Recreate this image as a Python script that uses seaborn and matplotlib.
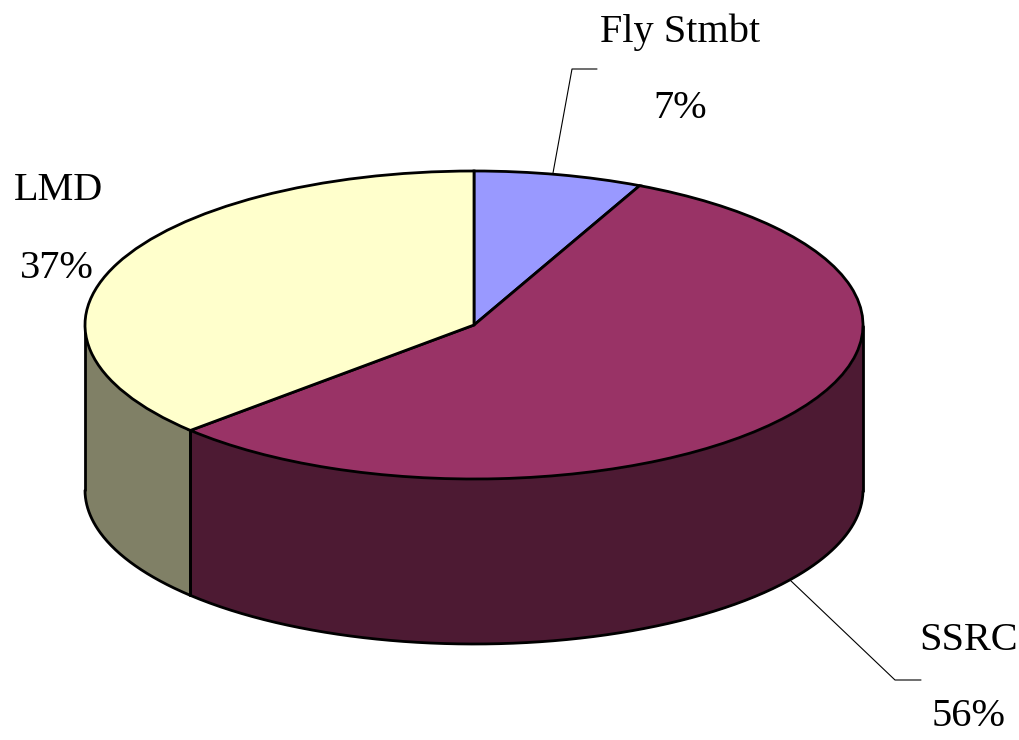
import numpy as np
import matplotlib
matplotlib.use("Agg")
import matplotlib.pyplot as plt
import seaborn as sns

labels = ["Fly Stmbt", "SSRC", "LMD"]
shares = [7, 56, 37]
top_colors = ["#9999ff", "#993366", "#ffffcc"]
side_colors = ["#4d4d80", "#4d1a33", "#808066"]

sns.set_theme(style="white")
plt.rcParams["font.family"] = ["Liberation Serif", "DejaVu Serif"]

W, H = 1020, 740
CX, CY, RX, RY, DEPTH = 474, 325, 389, 154, 165

fig = plt.figure(figsize=(W / 100, H / 100), dpi=100)
ax = fig.add_axes([0, 0, 1, 1])
LW = 2.0

# side walls, computed from the shares
start = 90.0
edges = start - np.cumsum([0] + shares) * 3.6
d = DEPTH / RY
for i in range(len(shares)):
    th = np.radians(np.linspace(edges[i + 1], edges[i], 400))
    mask = np.sin(th) <= 0
    if mask.any():
        xs, ys = np.cos(th[mask]), np.sin(th[mask])
        ax.fill_between(xs, ys - d, ys, color=side_colors[i], lw=0, zorder=1)
        for xv, yv in ((xs[0], ys[0]), (xs[-1], ys[-1])):
            ax.plot([xv, xv], [yv, yv - d], color="black", lw=LW, zorder=2)
        ax.plot(xs, ys - d, color="black", lw=LW, zorder=2)

# top face
wedges, _ = ax.pie(shares, colors=top_colors, startangle=90, counterclock=False,
                   radius=1, wedgeprops=dict(edgecolor="black", linewidth=LW, zorder=3))
for w in wedges:
    w.set_zorder(3)

ax.set_aspect("auto")
ax.set_xlim(-CX / RX, (W - CX) / RX)
ax.set_ylim(-(H - CY) / RY, CY / RY)
ax.axis("off")

def frac(px, py):
    return px / W, 1 - py / H

FS = 29
def label(px, py, s):
    ax.text(*frac(px, py), s, transform=ax.transAxes, ha="center", va="center",
            fontsize=FS, color="black", zorder=5)

label(680, 32, labels[0]); label(680, 109, f"{shares[0]}%")
label(59, 190, labels[2]); label(57, 268, f"{shares[2]}%")
label(969, 640, labels[1]); label(969, 716, f"{shares[1]}%")

def leader(pts):
    xs = [p[0] for p in pts]; ys = [p[1] for p in pts]
    ax.plot([x / W for x in xs], [1 - y / H for y in ys], transform=ax.transAxes,
            color="black", lw=0.8, zorder=4)

leader([(553, 173), (572, 69), (597, 69)])
leader([(790, 580), (895, 680), (921, 680)])

fig.savefig("out.png", dpi=100, facecolor="white")
